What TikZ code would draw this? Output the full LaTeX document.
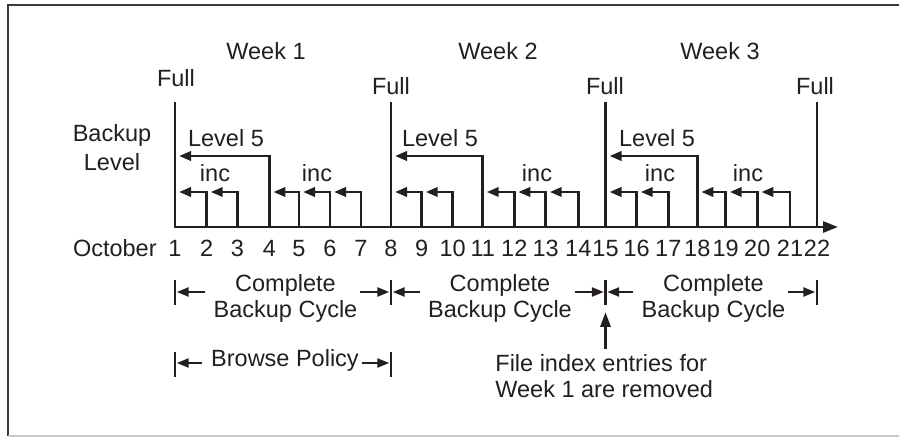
\documentclass[tikz,border=0pt]{standalone}
\usepackage{fontspec}
\setmainfont{Liberation Sans}
\usetikzlibrary{arrows.meta,calc}
\definecolor{ink}{HTML}{231F20}
\definecolor{framedark}{HTML}{3A3A3A}
\definecolor{framelight}{HTML}{C8C8C8}
\begin{document}
\begin{tikzpicture}[x=0.5pt,y=-0.5pt,
  every node/.style={font=\fontsize{11.75pt}{13.3pt}\selectfont, text=ink, inner sep=0pt},
  bar/.style={line width=1.4pt, draw=ink},
  steparrow/.style={bar, -{Triangle[length=6pt,width=4.6pt]}, shorten >=2pt},
  axisarrow/.style={bar, -{Triangle[length=7.5pt,width=5.5pt]}},
  dimarrow/.style={line width=1.3pt, draw=ink, -{Triangle[length=6pt,width=4.4pt]}, shorten >=0.8pt},
  tickline/.style={line width=1.3pt, draw=ink},
  pointer/.style={line width=1.5pt, draw=ink, -{Triangle[length=7.5pt,width=5pt]}}]
\useasboundingbox (0,0) rectangle (899,437);

% frame
\draw[framedark, line width=0.8pt] (899,5) -- (8,5) -- (8,436);
\draw[framelight, line width=0.8pt] (8,436) -- (899,436);

% day positions on the time axis
\foreach \d/\x in {1/175,2/206.7,3/237.3,4/269.3,5/299,6/330,7/361,8/391,
                   9/421.7,10/452.7,11/482.7,12/514.3,13/545.7,14/578.3,15/605.5,
                   16/636.7,17/668.3,18/697.3,19/725.7,20/757.3,21/790,22/817}
  \coordinate (d\d) at (\x,227);
\coordinate (TOP) at (0,102);
\coordinate (L5) at (0,156);
\coordinate (INC) at (0,192);
\coordinate (axend) at (838,227);

% week headings
\node[anchor=base] (wk1) at (266,60) {Week 1};
\node[anchor=base] (wk2) at (498,60) {Week 2};
\node[anchor=base] (wk3) at (720,60) {Week 3};

% full backups
\node[anchor=base] (full1) at (176,87) {Full};
\node[anchor=base] (full8) at (391,95) {Full};
\node[anchor=base] (full15) at (605,95) {Full};
\node[anchor=base] (full22) at (815,95) {Full};

% multi-line nodes: base anchor sits on the last line
\node[anchor=base, align=center, font=\fontsize{11.75pt}{14.5pt}\selectfont] (lvl) at (112,171) {Backup\\Level};

% axis with the first full backup
\draw[axisarrow] (d1 |- TOP) -- (d1) -- (axend);
\foreach \d in {8,15,22}
  \draw[bar] (d\d) -- (d\d |- TOP);

% level 5 backups
\foreach \a/\b in {4/1,11/8,18/15}
  \draw[steparrow] (d\a) |- (d\b |- L5);
\node[anchor=base] (lv1) at (226,147) {Level 5};
\node[anchor=base] (lv2) at (440,147) {Level 5};
\node[anchor=base] (lv3) at (657,147) {Level 5};

% incremental backups
\foreach \a/\b in {2/1,3/2,5/4,6/5,7/6,9/8,10/9,12/11,13/12,14/13,16/15,17/16,19/18,20/19,21/20}
  \draw[steparrow] (d\a) |- (d\b |- INC);
\node[anchor=base] (inc1) at (215,182) {inc};
\node[anchor=base] (inc2) at (317,182) {inc};
\node[anchor=base] (inc3) at (537,182) {inc};
\node[anchor=base] (inc4) at (660,182) {inc};
\node[anchor=base] (inc5) at (748,182) {inc};

% dates
\node[anchor=base east] (oct) at (157,257) {October};
\foreach \d in {1,...,22}
  \path (d\d) ++(0,30) node[anchor=base] (n\d) {\d};

% complete backup cycles
\foreach \d in {1,8,15,22} {
  \path (d\d) ++(0,65) coordinate (b\d);
  \draw[tickline] ($(b\d)+(0,-12)$) -- ($(b\d)+(0,13)$);
}
\node[anchor=base, align=center] (cyc1) at (285.5,318) {Complete\\Backup Cycle};
\node[anchor=base, align=center] (cyc2) at (500,318) {Complete\\Backup Cycle};
\node[anchor=base, align=center] (cyc3) at (713.5,318) {Complete\\Backup Cycle};
\foreach \c/\l/\r in {1/1/8,2/8/15,3/15/22} {
  \draw[dimarrow] ($(cyc\c.west |- b\l)+(-8,0)$) -- (b\l);
  \draw[dimarrow] ($(cyc\c.east |- b\r)+(2.5,0)$) -- (b\r);
}

% browse policy
\foreach \d in {1,8} {
  \path (d\d) ++(0,136) coordinate (p\d);
  \draw[tickline] ($(p\d)+(0,-11)$) -- ($(p\d)+(0,14)$);
}
\node[anchor=base] (bp) at (285,367) {Browse Policy};
\draw[dimarrow] ($(bp.west |- p1)+(-9,0)$) -- (p1);
\draw[dimarrow] ($(bp.east |- p8)+(3,0)$) -- (p8);

% index expiry note
\node[anchor=base west, align=left] (fi) at (495,398) {File index entries for\\Week 1 are removed};
\draw[pointer] ($(d15 |- fi.north)+(0,-5)$) -- ($(b15)+(0,20)$);
\end{tikzpicture}
\end{document}
